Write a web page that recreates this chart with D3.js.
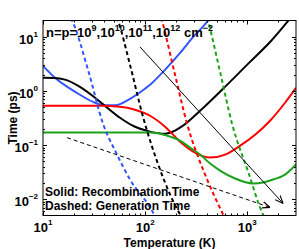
<!DOCTYPE html>
<html>
<head>
<meta charset="utf-8">
<script src="https://cdn.jsdelivr.net/npm/d3@7"></script>
<style>
  body { margin: 0; background: #fff; }
  text { font-family: "Liberation Sans", Arial, sans-serif; font-weight: bold; }
</style>
</head>
<body>
<div id="chart"></div>
<script>
// temperature (K) vs time (ps)
const blueSolid = [[10,2.90],[13.1,1.75],[18.4,1.10],[23,0.85],[32.3,0.605],[40.5,0.544],[50.8,0.544],[71.1,0.717],[99.6,1.10],[111.7,1.30],[149.9,2.25],[219.9,5.04],[295.8,9.93],[413,20],[460,27]];
const blackSolid = [[10,1.75],[13.1,1.74],[16.4,1.62],[23,1.19],[32.3,0.75],[40.5,0.53],[56.7,0.32],[79.6,0.218],[111.7,0.177],[156.6,0.162],[196,0.185],[235,0.228],[345,0.43],[566,1.05],[1064,3.44],[1672,8.0],[2513,19.6],[2900,27]];
const redSolid = [[10,0.53],[36.9,0.53],[56.7,0.511],[79.6,0.45],[111.7,0.348],[156.6,0.2186],[219.9,0.1157],[308,0.0726],[433,0.0587],[608,0.0667],[852,0.0977],[1193,0.1556],[1671,0.282],[2344,0.605],[3000,1.14]];
const greenSolid = [[10,0.17],[111.7,0.17],[139.9,0.1625],[175.4,0.143],[219.9,0.121],[275.4,0.0897],[345,0.0667],[433,0.0455],[541.6,0.0338],[759,0.02408],[1140,0.0195],[1428,0.0203],[1789,0.0231],[2344,0.0285],[3060,0.0455]];

const blueDashed = [[17,28],[19.2,20],[27.6,2.45],[38.7,0.248],[53.1,0.0667],[71.1,0.0231],[111.7,0.00704],[122.3,0.00523],[130,0.004]];
const blackDashed = [[50,30],[54.3,20],[71.1,3.03],[95.3,0.334],[139.9,0.0353],[219.9,0.00523],[240,0.004]];
const redDashed = [[138,30],[146.4,20],[196.3,1.98],[257.3,0.248],[386.1,0.0286],[579.4,0.00523],[620,0.004]];
const greenDashed = [[390,30],[413,20],[541.6,2.25],[709.6,0.248],[1018,0.0324],[1428,0.00523],[1550,0.004]];

const solidArrow = [[89.1,6.5],[2242,0.00836]];
const dashedArrow = [[17.2,0.137],[1671,0.00705]];

const xTicks = [10,100,1000];
const xTickExp = ["1","2","3"];
const yTicks = [10,1,0.1,0.01];
const yTickExp = ["1","0","\u22121","\u22122"];

const series = [
  {d: blueSolid, c: "#3355ff", dash: null},
  {d: blackSolid, c: "#000000", dash: null},
  {d: redSolid, c: "#ff0000", dash: null},
  {d: greenSolid, c: "#1aa31a", dash: null},
  {d: blueDashed, c: "#3355ff", dash: "4,3"},
  {d: blackDashed, c: "#000000", dash: "4,3"},
  {d: redDashed, c: "#ff0000", dash: "4,3"},
  {d: greenDashed, c: "#1aa31a", dash: "4,3"}
];

const W = 299, H = 249;
const m = {l: 43, r: 3, t: 20.5, b: 33.5};

const svg = d3.select("#chart").append("svg").attr("width", W).attr("height", H);

const x = d3.scaleLog().domain([10, 3000]).range([m.l, W - m.r]);
const y = d3.scaleLog().domain([0.005, 20]).range([H - m.b, m.t]);

svg.append("defs").call(d => {
  d.append("clipPath").attr("id", "clip").append("rect")
    .attr("x", m.l).attr("y", m.t).attr("width", W - m.r - m.l).attr("height", H - m.b - m.t);
  d.append("marker").attr("id", "ah").attr("viewBox", "0 0 10 10")
    .attr("refX", 10).attr("refY", 5).attr("markerWidth", 8).attr("markerHeight", 8)
    .attr("markerUnits", "userSpaceOnUse").attr("orient", "auto")
    .append("path").attr("d", "M0,1 L10,5 L0,9").attr("fill", "none").attr("stroke", "#000").attr("stroke-width", 1.4);
});

const line = d3.line().x(p => x(p[0])).y(p => y(p[1])).curve(d3.curveMonotoneX);
const plot = svg.append("g").attr("clip-path", "url(#clip)");

series.forEach(s => {
  plot.append("path").attr("d", line(s.d)).attr("fill", "none")
    .attr("stroke", s.c).attr("stroke-width", 2)
    .attr("stroke-dasharray", s.dash);
});

// arrows
const straight = d3.line().x(p => x(p[0])).y(p => y(p[1]));
svg.append("path").attr("d", straight(solidArrow)).attr("stroke", "#000").attr("stroke-width", 1)
  .attr("fill", "none").attr("marker-end", "url(#ah)");
svg.append("path").attr("d", straight(dashedArrow)).attr("stroke", "#000").attr("stroke-width", 1)
  .attr("stroke-dasharray", "4,3").attr("fill", "none").attr("marker-end", "url(#ah)");

// ticks (inward, all four sides)
function minors(lo, hi) {
  let out = [];
  for (let e = Math.floor(Math.log10(lo)); e <= Math.ceil(Math.log10(hi)); e++)
    for (let k = 2; k <= 9; k++) {
      const v = k * Math.pow(10, e);
      if (v > lo && v < hi) out.push(v);
    }
  return out;
}
const xr = x.range(), yr = y.range();
const axes = svg.append("g").attr("stroke", "#000").attr("stroke-width", 1);
xTicks.concat(minors(10, 3000)).forEach(v => {
  const len = xTicks.includes(v) ? 4 : 2;
  const px = Math.round(x(v)) + 0.5;
  axes.append("line").attr("x1", px).attr("x2", px).attr("y1", yr[0]).attr("y2", yr[0] - len);
  axes.append("line").attr("x1", px).attr("x2", px).attr("y1", yr[1]).attr("y2", yr[1] + len);
});
yTicks.concat(minors(0.005, 20)).forEach(v => {
  const len = yTicks.includes(v) ? 4 : 2;
  const py = Math.round(y(v)) + 0.5;
  axes.append("line").attr("y1", py).attr("y2", py).attr("x1", xr[0]).attr("x2", xr[0] + len);
  axes.append("line").attr("y1", py).attr("y2", py).attr("x1", xr[1]).attr("x2", xr[1] - len);
});
axes.append("rect").attr("x", xr[0]).attr("y", yr[1]).attr("width", xr[1] - xr[0]).attr("height", yr[0] - yr[1])
  .attr("fill", "none");

// tick labels
xTicks.forEach((v, i) => {
  const t = svg.append("text").attr("x", x(v)).attr("y", 232).attr("text-anchor", "middle").attr("font-size", 13);
  t.append("tspan").text("10");
  t.append("tspan").attr("dy", -7).attr("font-size", 8).text(xTickExp[i]);
});
yTicks.forEach((v, i) => {
  const t = svg.append("text").attr("x", 38).attr("y", y(v) + 7).attr("text-anchor", "end").attr("font-size", 13);
  t.append("tspan").text("10");
  t.append("tspan").attr("dy", -7).attr("font-size", 8).text(yTickExp[i]);
});

// axis titles
svg.append("text").attr("x", (xr[0] + xr[1]) / 2).attr("y", 246.5).attr("text-anchor", "middle")
  .attr("font-size", 12).text("Temperature (K)");
svg.append("text").attr("transform", "translate(16.5," + ((yr[0] + yr[1]) / 2) + ") rotate(-90)")
  .attr("text-anchor", "middle").attr("font-size", 12).text("Time (ps)");

// annotations
const note = svg.append("text").attr("x", 46).attr("y", 37).attr("font-size", 13);
const parts = [["n=p=10","9"],[",10","10"],[",10","11"],[",10","12"],[" cm","\u22122"]];
parts.forEach((p, i) => {
  note.append("tspan").attr("dy", i ? 6 : 0).text(p[0]);
  note.append("tspan").attr("dy", -6).attr("font-size", 9).text(p[1]);
});

svg.append("text").attr("x", 45).attr("y", 196).attr("font-size", 12).text("Solid: Recombination Time");
svg.append("text").attr("x", 45).attr("y", 210).attr("font-size", 12).text("Dashed: Generation Time");
</script>
</body>
</html>
